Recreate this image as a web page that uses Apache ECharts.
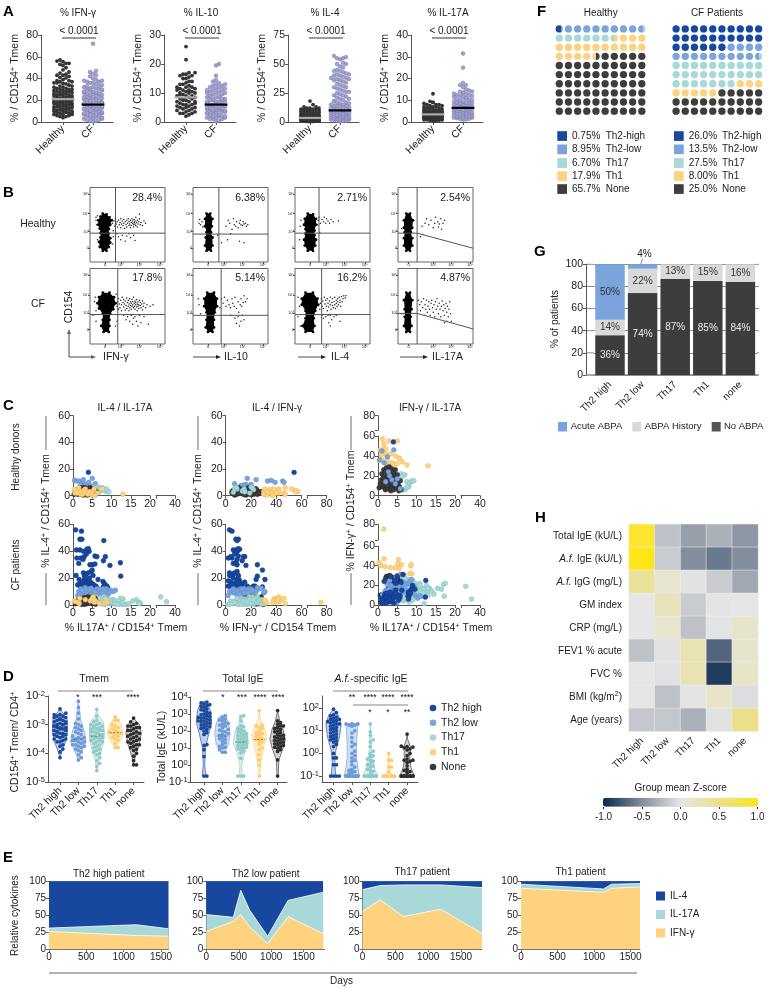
<!DOCTYPE html>
<html><head><meta charset="utf-8"><style>html,body{margin:0;padding:0;background:#fff}#c{width:768px;height:988px}</style>
<script src="https://cdn.jsdelivr.net/npm/echarts@6/dist/echarts.min.js"></script></head><body><div id="c"></div>
<script>
// ---------- DATA ----------
const ifnHealthy=[57,56,55.5,54,54,53,52,50,48,46,45,44,43,43,42,41,40.5,39,38,38,37,37,36,36,35.5,35,34,34,33,33,32,32,31,31,30,30,30,29,29,28,28,28,27,27,26,26,26,25,25,25,24,24,24,23,23,23,22,22,22,21,21,21,20,20,20,19,19,19,18,18,18,17,17,17,16,16,16,15,15,15,14,14,14,13,13,13,12,12,12,11,11,11,10,10,10,9,9,9,8,8,8,7,7,7,6,6,5,5,4];
const ifnCF=[72,47,46,44.5,43,42,40,39,38,38,37,37,36,36,35,34,33,33,32,32,31,31,30,30,30,29,29,28,28,27,27,27,26,26,25,25,25,24,24,23,23,23,22,22,21,21,21,20,20,20,19,19,19,18,18,18,17,17,17,16,16,16,15,15,15,14,14,14,13,13,13,12,12,12,11,11,11,10,10,10,9,9,9,8,8,8,7,7,7,6,6,6,5,5,5,4,4,4,3,3,2,2,1,1,0.5];
const il10Healthy=[26,21.5,17,17,16.5,16.5,16,16,15.5,15,15,14,14,13.5,13,13,12.5,12,12,12,11.5,11.5,11,11,11,10.5,10.5,10,10,10,9.5,9.5,9,9,9,8.5,8.5,8,8,8,7.5,7.5,7,7,7,6.5,6.5,6,6,6,5.5,5.5,5,5,5,4.5,4.5,4,4,3.5,3.5,3,3,3,2.5,2];
const il10CF=[20,19.5,16,14.5,14,13.5,13,13,12.5,12.5,12,12,11.5,11.5,11,11,11,10.5,10.5,10,10,10,9.5,9.5,9,9,9,8.5,8.5,8.5,8,8,8,7.5,7.5,7.5,7,7,7,7,6.5,6.5,6.5,6,6,6,6,5.5,5.5,5.5,5,5,5,5,4.5,4.5,4.5,4,4,4,4,3.5,3.5,3.5,3,3,3,3,2.5,2.5,2.5,2,2,2,2,1.5,1.5,1.5,1,1,1,0.5,0.3];
const il4Healthy=[18,15,13,13,12,12,12,11,11,11,11,10,10,10,9,9,9,8,8,8,8,7,7,7,7,6,6,6,6,6,5,5,5,5,5,4.5,4.5,4,4,4,4,3.5,3.5,3.5,3,3,3,3,2.5,2.5,2.5,2,2,2,2,2,1.5,1.5,1.5,1.5,1,1,1,1,1,0.7,0.7,0.5,0.5,0.3];
const il4CF=[57,56,55,55,54,51,50,50,48,47,45,44,44,43,42,41,41,40,40,39,38,38,37,37,36,36,35,34,33,32,31,30,30,29,28,27,26,26,25,24,23,23,22,21,20,20,19,18,18,17,17,16,16,15,15,14,14,14,13,13,12,12,12,11,11,11,10,10,10,9,9,9,8,8,8,7,7,7,6,6,6,6,5,5,5,5,4,4,4,4,3,3,3,3,2,2,2,2,1,1,1,0.5];
const il17Healthy=[13,9.5,9,9,8.5,8,8,8,7.5,7.5,7,7,7,6.5,6.5,6.5,6,6,6,5.5,5.5,5.5,5.5,5,5,5,5,4.5,4.5,4.5,4.5,4,4,4,4,4,3.5,3.5,3.5,3.5,3.5,3,3,3,3,3,2.7,2.7,2.7,2.5,2.5,2.5,2.2,2.2,2.2,2,2,2,1.8,1.8,1.8,1.5,1.5,1.5,1.2,1.2,1.2,1,1,1,0.8,0.8,0.6,0.5];
const il17CF=[31.5,25,18,17,17,16,15,14.5,14,14,13.5,13.5,13,13,12.5,12.5,12,12,11.5,11.5,11,11,10.5,10.5,10,10,9.5,9.5,9,9,9,8.5,8.5,8,8,8,7.5,7.5,7,7,7,6.5,6.5,6.5,6,6,6,5.5,5.5,5.5,5,5,5,4.5,4.5,4.5,4,4,4,3.5,3.5,3.5,3,3,3,2.7,2.7,2.5,2.5,2.2,2,2,1.8,1.5,1.5,1.2,1];
const aMedians=[[21,16],[8.5,6],[3.5,10],[3.5,6.5]];
const flowPct=[['28.4%','6.38%','2.71%','2.54%'],['17.8%','5.14%','16.2%','4.87%']];
const flowBlobH1=[[17,65],[22,64],[26,60],[29,56],[27,50],[25,44],[25,38],[27,32],[27,26],[25,20],[22,15],[17,15],[13,20],[12,27],[14,33],[14,39],[13,45],[11,50],[11,56],[14,61]];
const flowBlobH2=[[18,65],[23,65],[26,58],[25,48],[24,40],[26,33],[26,22],[24,15],[18,15],[16,22],[17,33],[18,40],[16,48],[16,58]];
const flowBlobH3=[[17,65],[24,64],[28,58],[28,50],[26,42],[26,36],[28,30],[27,22],[24,15],[17,15],[13,22],[12,30],[14,38],[14,44],[12,50],[13,58]];
const flowBlobH4=[[11,65],[16,65],[20,56],[19,46],[17,40],[19,32],[19,22],[16,15],[11,15],[8,22],[8,32],[9,40],[8,46],[8,56]];
const flowBlobC1=[[17,68],[26,68],[32,62],[34,54],[31,46],[27,40],[26,32],[26,24],[25,16],[18,16],[15,24],[17,32],[17,40],[12,47],[10,54],[12,62]];
const flowBlobC2=[[19,68],[28,68],[32,60],[32,50],[29,42],[28,32],[28,22],[26,16],[20,16],[17,22],[18,32],[18,42],[15,50],[15,60]];
const flowBlobC3=[[14,68],[24,68],[30,60],[31,52],[27,44],[25,34],[26,24],[24,16],[14,16],[10,24],[14,34],[14,44],[9,52],[9,60]];
const flowBlobC4=[[11,68],[16,68],[19,58],[18,46],[17,36],[18,24],[16,16],[11,16],[8,24],[9,36],[9,46],[8,58]];
const flowEvH1=[[30,52],[32,55],[33,48],[34,58],[35,51],[36,54],[37,47],[38,56],[39,50],[40,53],[41,58],[41,46],[42,51],[43,55],[44,49],[45,52],[45,57],[46,45],[47,54],[48,50],[49,56],[49,47],[50,52],[51,58],[52,49],[52,54],[53,51],[54,56],[54,46],[55,53],[55,49],[56,58],[57,52],[57,55],[58,50],[58,47],[59,53],[59,57],[60,51],[60,55],[61,49],[61,60],[62,53],[63,56],[63,47],[64,51],[65,54],[66,58],[67,50],[68,53],[70,49],[72,55],[36,38],[38,34],[41,30],[43,36],[47,28],[49,35],[52,38],[54,33],[58,36],[60,29],[9,50],[8,56],[8,60],[10,62],[31,42],[10,30],[30,24],[31,34],[74,52],[66,64]];
const flowEvH2=[[8,52],[9,57],[10,50],[12,54],[13,47],[33,36],[38,26],[46,30],[44,48],[47,56],[49,52],[52,44],[54,58],[55,50],[57,48],[58,54],[60,46],[62,52],[63,56],[64,50],[66,49],[67,54],[68,51],[70,52],[71,48],[73,50],[62,28],[68,26],[50,38]];
const flowEvH3=[[7,48],[8,56],[30,50],[31,56],[32,60],[34,52],[36,57],[38,54],[39,60],[41,52],[42,58],[44,55],[46,52],[48,57],[51,54],[58,55],[33,40],[6,30]];
const flowEvH4=[[30,34],[33,37],[32,48],[36,52],[38,58],[41,50],[44,56],[47,46],[49,52],[50,60],[53,54],[54,47],[55,51],[57,58],[58,44],[60,52],[62,56],[5,45]];
const flowEvC1=[[36,50],[37,56],[38,46],[38,60],[39,53],[40,48],[41,58],[42,52],[42,44],[43,62],[44,55],[45,49],[45,59],[46,53],[47,45],[47,57],[48,51],[49,61],[49,47],[50,55],[51,50],[51,58],[52,53],[52,44],[53,60],[53,48],[54,56],[54,51],[55,54],[55,46],[56,59],[56,50],[57,52],[57,56],[58,48],[58,62],[59,54],[59,50],[60,57],[60,46],[61,52],[61,55],[62,49],[62,59],[63,53],[63,44],[64,56],[64,50],[65,52],[65,47],[66,58],[67,51],[67,55],[68,48],[69,53],[70,57],[70,45],[71,50],[72,54],[74,48],[76,52],[80,50],[84,52],[45,38],[48,32],[50,36],[53,30],[55,38],[57,26],[58,34],[60,36],[62,30],[64,24],[66,38],[68,28],[72,36],[78,26],[8,44],[6,56],[7,62],[4,38],[35,66],[36,30],[34,24],[8,30]];
const flowEvC2=[[10,40],[8,52],[7,60],[36,48],[38,60],[40,54],[42,62],[44,50],[46,58],[48,52],[50,48],[52,60],[53,54],[55,50],[56,62],[58,47],[60,56],[61,42],[63,52],[64,60],[65,50],[67,55],[68,64],[70,56],[72,60],[50,38],[56,34],[58,27],[60,36],[62,24],[64,30],[66,38],[68,32]];
const flowEvC3=[[4,36],[6,50],[7,24],[4,62],[33,46],[34,54],[35,60],[36,50],[37,57],[38,47],[39,62],[40,53],[41,58],[42,50],[43,44],[43,60],[44,54],[45,49],[46,57],[47,52],[47,62],[48,46],[49,55],[50,51],[50,60],[51,48],[52,56],[53,52],[53,62],[54,47],[55,58],[55,54],[56,50],[57,60],[57,56],[58,52],[59,62],[60,55],[60,58],[61,50],[62,63],[63,56],[64,60],[65,64],[67,61],[68,64],[36,38],[38,34],[41,36],[44,38],[45,28],[47,38],[49,32],[52,36],[55,38],[47,24],[60,30]];
const flowEvC4=[[5,40],[27,58],[29,52],[30,44],[31,56],[33,48],[34,60],[35,38],[36,52],[37,46],[38,58],[39,42],[40,50],[41,56],[42,46],[43,38],[44,54],[45,58],[46,48],[47,42],[48,52],[49,36],[50,56],[51,46],[52,60],[53,50],[54,40],[55,54],[56,46],[57,36],[58,50],[59,57],[60,44],[61,52],[62,38],[63,47],[64,54],[65,42],[66,50],[67,36],[68,46],[69,56],[70,40],[71,30],[62,28],[65,30]];
const thNames=['Th2 high','Th2 low','Th17','Th1','None'];
const catNames=['Th2 high','Th2 low','Th17','Th1','none'];
// triples: [% IL17A, % IL-4, % IFN-γ]
const donorsTh2High=[[4,17.5,54]];
const donorsTh2Low=[[0.4,11.5,36],[1,11,45],[1.6,11,33],[2.4,10,39],[3,8.5,20],[3.6,8.5,16],[4.1,10,46],[5,13,17],[5.8,9,7],[2,8,14],[4.5,7.5,12],[2.7,12,24]];
const donorsTh17=[[6,4.5,22],[6.5,6.5,20],[7,6,21],[7.5,4,14],[8,5,9],[8.3,3.5,13],[9,3,15],[6.7,2.5,6],[7.2,5,7],[7.6,6,8.5],[8.7,5,14.5],[9.3,3,15],[6.2,2,19]];
const donorsTh1=[[1.2,3,57],[1.5,5,52],[2.8,4,55],[5,3,55],[0.5,2,46],[1.5,6,47],[2,1,47],[3.2,5,42],[0.8,4,41],[1.9,2,42],[2.5,1,38],[4.5,2,40],[5.5,5,38],[0.4,5,35],[1.1,2,36],[3,3,33],[3.8,1,33],[4.2,3,30],[4.9,0.5,32],[6.3,2,34],[7.5,5,31],[13,1,30],[5.6,0,37],[2,3,33]];
const donorsNone=[[0.3,1,8],[0.6,3,12],[0.9,4,16],[1,2,22],[1.2,5,9],[1.3,1,14],[1.5,3,26],[1.6,4,11],[1.7,6,19],[1.9,2,6],[2,5,24],[2.1,1,17],[2.2,3,28],[2.4,4,13],[2.5,6,21],[2.6,0.5,7],[2.7,3,15],[2.8,5,23],[2.9,2,29],[3,4,10],[3.1,6,18],[3.2,1,25],[3.3,3,5],[3.4,5,20],[3.5,2,27],[3.6,4,8],[3.7,0.5,16],[3.8,3,12],[3.9,5,24],[4,2,19],[4.1,4,6],[4.2,1,22],[4.3,3,14],[4.4,6,10],[4.5,2,26],[4.6,4,17],[4.8,1,8],[5,3,21],[5.2,5,13],[5.4,2,5],[5.6,4,9],[5.8,1,15],[6,3,6],[1.4,2,18],[2.3,1.5,10],[3.5,0.8,20]];
const cfTh2High=[[0.7,56,3],[2.2,55,5],[1.8,49,10],[2.3,49,8],[8,48,9],[0.9,41,6],[1.8,41,8],[2.7,40,9],[3.6,41.5,11],[4,42,10],[1,35,2],[2,35,5],[2.9,36,4],[3.5,38,7],[4.2,40,9],[5.7,36.5,10],[6.2,36,15],[8.4,36,14],[7.9,33,13],[9.6,29.5,16],[12.3,31.5,8],[12.4,21.5,25],[1.5,31,6],[2.6,34,9],[5,30,9],[5.7,30.5,8],[2.7,24,3],[3,22,4],[3.4,23,6],[4,24,7],[4.7,25,9],[5.2,22,10],[3.6,19,9],[4.2,20,10],[3,18,11],[1.8,16,11],[2.2,15.5,12],[3.2,15,13],[3.9,16,7],[4.5,17,15],[5,16,8],[7.8,17.5,9],[8.1,16,10],[8.4,15,12],[8.8,14,17],[7.9,13.5,6],[9,13,20],[4.7,14,22],[1.6,19,24],[6,14,23],[3.3,13.5,29],[6.5,19,31],[5,26,29],[4.4,30,25],[0.8,22,3],[1.2,15,5],[2,14,2],[2.5,17,4],[3.5,14,3],[4.2,18,2],[5.4,15,5],[3,20,6],[2.1,13.5,8],[4.6,13.2,12]];
const cfTh2Low=[[1.5,10,4],[2.2,9,6],[2.8,11,8],[3.4,8,10],[3.9,12,12],[4.5,9,14],[4.9,7,2],[5.3,11,5],[5.9,8.5,16],[6.2,12,18],[6.8,9,20],[7.3,11,21],[7.8,7.5,22],[8.2,10,24],[8.7,12,26],[9.1,8,12],[9.7,11,10],[10.4,10,7],[11,11,9],[2,12,15],[3,8,17],[4,10,3],[5.5,6.5,19],[6.5,7,23],[1.2,7,11],[3.1,13,25],[4.7,12.5,28],[5,9,30],[6,10,31],[1.8,8,13],[2.5,7,9],[3.6,10,14],[4.3,11,18],[5,8,11],[5.7,10,7],[6.9,12,13],[7.5,9,15],[8,12,6],[9.4,9,18],[3.3,12,20],[2.4,11,21]];
const cfTh17=[[5.2,5,18],[5.6,3,22],[5.9,6,25],[6.2,2,14],[6.5,4,20],[6.8,1.5,10],[7.1,5,24],[7.4,3,16],[7.7,2,12],[8,6,21],[8.3,1,19],[8.6,3.5,8],[8.9,4.5,23],[9.2,2,15],[9.5,1,17],[9.8,3,20],[10.1,1.5,11],[10.4,2.5,14],[10.8,0.5,22],[11.2,2,18],[11.5,1,9],[11.9,1,16],[12.3,5,12],[12.6,1,20],[13,4.5,15],[13.4,0.5,17],[14,0.5,14],[14.5,1,11],[15.5,3,17],[16.5,4,16],[17,2,21],[17.5,1.5,22],[13,0.5,10],[12,0.5,1.5],[17.2,1,9],[25,6,19],[31,2.5,6],[6,0.5,28],[5.5,2,6],[6.6,3,4],[7.3,1,6],[8.1,0.5,3],[9,1,5],[10,2,7],[7,4,27],[8,3,26],[9,1.5,25],[6.1,4,12],[6.4,3,16],[6.9,5,19],[7.2,2,23],[7.8,4,18],[8.2,3,13],[8.7,1,16],[9.3,3,11],[9.9,2,13],[10.5,4,19],[11,3,14],[7.5,1.5,21],[8.4,5,9],[9.6,4,22],[10.9,1,20],[11.6,0.7,12],[12.9,2,17]];
const cfTh1=[[1.5,2,74],[0.3,3,43],[0.7,2.5,40],[1.6,1,47],[1.8,5,39],[3.2,4,38],[4.5,3,38],[5.3,5,46],[5.2,6,42],[6.1,2.5,41],[5.5,2,37],[6.9,1,30],[8.5,2,40],[8.6,3.5,41],[8.3,1.5,32],[8.8,2,32],[4.8,4,29],[5.6,3.5,31]];
const cfNone=[[1,3,10],[1.5,1.5,8],[2,4,12],[2.4,5,15],[2.8,2,18],[3,5.5,22],[3.2,3,25],[3.6,1,28],[3.9,6,20],[4.2,2.5,24],[4.5,4,28],[4.9,5,16],[5.1,1,26],[5.4,3,22],[5.7,5,19],[6,3,21],[0.6,1,10],[2.2,0.5,29],[3,0.5,30],[4,4,26],[4.7,2,27],[5,6,28],[5.9,0.7,24],[2,2.5,27],[3.3,4.5,28],[4.1,3,22],[2.7,1,13],[3.7,2,16]];
// panel D, log10 of the value
const tmemValues=[
[-2.45,-2.6,-2.65,-2.65,-2.7,-2.7,-2.75,-2.75,-2.8,-2.8,-2.85,-2.85,-2.9,-2.9,-2.95,-2.95,-3,-3,-3,-3.05,-3.05,-3.1,-3.1,-3.1,-3.15,-3.15,-3.2,-3.2,-3.25,-3.25,-3.3,-3.3,-3.35,-3.35,-3.4,-3.4,-3.45,-3.5,-3.5,-3.55,-3.6,-3.6,-3.7,-3.75,-3.85,-3.95,-4.15],
[-2.18,-2.4,-2.6,-2.8,-2.95,-3,-3.05,-3.1,-3.15,-3.2,-3.25,-3.3,-3.35,-3.4,-3.45,-3.45,-3.5,-3.5,-3.55,-3.55,-3.6,-3.6,-3.65,-3.65,-3.7,-3.7,-3.75,-3.75,-3.8,-3.85,-3.9,-3.95,-4.05,-4.15,-4.23],
[-2.47,-2.7,-2.85,-2.9,-2.95,-3,-3,-3.05,-3.05,-3.1,-3.1,-3.15,-3.15,-3.2,-3.2,-3.25,-3.25,-3.3,-3.3,-3.35,-3.35,-3.4,-3.4,-3.45,-3.45,-3.5,-3.5,-3.55,-3.55,-3.6,-3.6,-3.65,-3.7,-3.75,-3.8,-3.85,-3.9,-3.95,-4,-4.05,-4.15,-4.25,-4.35,-4.45,-4.6],
[-2.73,-2.85,-2.85,-3,-3.05,-3.1,-3.15,-3.2,-3.25,-3.25,-3.3,-3.3,-3.35,-3.4,-3.45,-3.5,-3.55,-3.65,-3.8,-3.8],
[-2.77,-2.9,-2.95,-3,-3.05,-3.05,-3.1,-3.1,-3.15,-3.2,-3.2,-3.25,-3.3,-3.3,-3.35,-3.4,-3.4,-3.45,-3.5,-3.5,-3.55,-3.6,-3.6,-3.65,-3.7,-3.7,-3.75,-3.8,-3.85,-3.9,-4,-4.1,-4.25,-4.4,-4.4]];
const igeValues=[
[3.7,3.65,3.6,3.55,3.5,3.45,3.4,3.3,3.25,3.2,3.1,3.05,3,2.95,2.9,2.85,2.8,2.8,2.75,2.7,2.65,2.6,2.6,2.55,2.5,2.45,2.4,2.35,2.3,2.25,2.2,2.15,2.1,2,1.9,1.8,1.2,1.15,0.9,0.5,-0.65,-0.65],
[2.9,2.8,2.7,2.65,2.6,2.5,2.45,2.4,2.35,2.3,2.2,2.1,2.05,2,1.95,1.85,1.8,1.75,1.7,1.6,1.55,1.5,1.4,1.3,1.2,1.1,1.05,1,0.9,0.75,0.75],
[2.9,2.85,2.6,2.3,2.25,2.15,2.1,2,1.95,1.9,1.85,1.8,1.75,1.7,1.65,1.6,1.55,1.5,1.45,1.4,1.35,1.3,1.25,1.2,1.15,1.1,1.05,1,0.95,0.9,0.8,0.7,0.4,-0.65,-0.65,-0.65],
[3.2,2.35,2.3,2.2,2.15,2,1.9,1.85,1.8,1.7,1.6,1.55,1.5,1.4,1.35,1.2,1,0.9,0.6,0.3,0,-0.65],
[3.2,2.6,2.5,2.4,2.3,2.3,2.2,2.15,2.1,2,1.95,1.9,1.8,1.75,1.7,1.65,1.6,1.55,1.5,1.45,1.4,1.35,1.3,1.25,1.2,1.15,1.1,1.05,1,0.9,0.8,0.3,-0.65]];
const afValues=[
[1.95,1.8,1.7,1.65,1.6,1.55,1.5,1.5,1.45,1.4,1.4,1.35,1.3,1.3,1.25,1.2,1.15,1.1,1.05,1,0.95,0.9,0.85,0.8,0.75,0.7,0.65,0.6,0.55,0.5,0.4,0.3,0,-0.2,-0.2,-0.5,-0.5,-1,-1,-1,-1],
[1.3,1.3,1.3,1.3,1.25,1.25,1.2,1,0.9,0.7,0.5,0.4,0.3,0.1,0,-0.1,-0.2,-0.3,-0.35,-0.5,-0.6,-0.7,-0.75,-0.8,-0.85,-0.9,-1,-1,-1,-1,-1,-1,-1,-1,-1,-1,-1,-1,-1,-1,-1,-1],
[1.3,0.95,0.8,0.6,0.5,0.3,0.1,0,-0.1,-0.15,-0.25,-0.3,-0.35,-0.45,-0.5,-0.55,-0.6,-0.7,-0.75,-0.8,-0.9,-1,-1,-1,-1,-1,-1,-1,-1,-1,-1,-1,-1,-1],
[0,-0.3,-0.3,-0.6,-0.6,-0.8,-1,-1,-1,-1,-1,-1,-1,-1,-1],
[0.85,0.32,0.3,0.28,0.25,0.2,0.15,0,-0.1,-0.25,-0.3,-0.3,-0.35,-0.4,-0.55,-0.7,-0.75,-0.8,-0.85,-1,-1,-1,-1,-1,-1,-1,-1,-1,-1,-1,-1,-1,-1,-1]];
const tmemShapes=[
[[-4.15,0],[-3.9,.12],[-3.6,.3],[-3.2,.42],[-2.8,.38],[-2.6,.18],[-2.45,0]],
[[-4.23,0],[-3.9,.2],[-3.6,.42],[-3.3,.35],[-2.9,.15],[-2.5,.06],[-2.18,0]],
[[-4.6,0],[-4.2,.1],[-3.8,.3],[-3.3,.42],[-2.9,.35],[-2.7,.1],[-2.47,0]],
[[-3.8,.03],[-3.6,.25],[-3.3,.45],[-3,.3],[-2.85,.14],[-2.73,0]],
[[-4.4,0],[-4.1,.1],[-3.7,.3],[-3.3,.42],[-3,.32],[-2.85,.1],[-2.77,0]]];
const tmemMedians=[-3.05,-3.5,-3.4,-3.28,-3.4];
const igeShapes=[
[[-.65,.1],[0,.04],[1,.08],[1.8,.25],[2.5,.42],[3.2,.35],[3.7,.16],[3.75,0]],
[[.75,.1],[1.2,.33],[1.8,.42],[2.4,.35],[2.8,.2],[2.95,0]],
[[-.65,.08],[0,.05],[.7,.2],[1.3,.42],[1.9,.32],[2.4,.12],[2.9,.04]],
[[-.65,.04],[0,.08],[1,.22],[1.7,.42],[2.2,.28],[2.7,.05],[3.2,0]],
[[-.65,.03],[.3,.07],[1,.3],[1.5,.42],[2.1,.3],[2.6,.12],[3.2,0]]];
const igeMedians=[2.55,1.7,1.35,1.5,1.4];
const afShapes=[
[[-1,.12],[-.4,.07],[.1,.12],[.7,.32],[1.3,.42],[1.7,.25],[1.95,0]],
[[-1,.42],[-.7,.34],[-.2,.26],[.4,.26],[1,.3],[1.3,.32],[1.35,0]],
[[-1,.42],[-.6,.2],[0,.08],[.6,.04],[1.3,0]],
[[-1,.32],[-.8,.04],[0,.02]],
[[-1,.4],[-.6,.2],[-.2,.15],[.3,.18],[.6,.04],[.85,0]]];
const eDays=[[0,1170,1600],[0,415,530,665,945,1260,1800],[0,270,620,1190,1820],[0,1130,1240,1630]];
const eIfn=[[26,20,19],[26,41,51,33,8,48,23],[56,73,48,59,23],[90,84,90,92]];
const eIl17=[[5,16,11],[25,6,36,25,11,24,61],[32,21,47,36,68],[6,5,6,5]];
const eIl4=[[69,64,70],[49,53,13,42,81,28,16],[12,6,5,5,9],[4,11,4,3]];
const eTitles=['Th2 high patient','Th2 low patient','Th17 patient','Th1 patient'];
const fLabels=['Th2-high','Th2-low','Th17','Th1','None'];
const fHealthy=[0.75,8.95,6.70,17.9,65.7];
const fCF=[26,13.5,27.5,8,25];
const fHealthyText=['0.75%','8.95%','6.70%','17.9%','65.7%'];
const fCFText=['26.0%','13.5%','27.5%','8.00%','25.0%'];
const gNoAbpa=[36,74,87,85,84];
const gHistory=[14,22,13,15,16];
const gAcute=[50,4,0,0,0];
const hRows=['Total IgE (kU/L)','~{A.f.} IgE (kU/L)','~{A.f.} IgG (mg/L)','GM index','CRP (mg/L)','FEV1 % acute','FVC %','BMI (kg/m^{2})','Age (years)'];
const hZ=[[.9,-.2,-.4,-.3,-.45],[1,-.15,-.5,-.6,-.5],[.42,.12,-.02,-.15,-.35],[0,.24,-.15,-.01,0],[0,.12,-.2,-.01,.14],[-.2,-.02,.28,-.7,.14],[0,-.03,.28,-.9,.17],[0,-.2,-.01,.15,-.05],[-.17,-.17,-.3,-.02,.5]];

// ---------- STYLE ----------
const F='Liberation Sans',INK='#222',AX='#555';
const CB='#17479e',CL='#7ba3dc',CT='#a8d8d8',CY='#fed27e',CN='#3d3d3d';
const groupColors=[CB,CL,CT,CY,CN];
const option={animation:false,backgroundColor:'#fff',grid:[],xAxis:[],yAxis:[],series:[],graphic:{elements:[]}};
const G=option.graphic.elements;

function rt(s,size,color){
  color=color||INK;
  const parts=s.split(/(\^\{[^}]*\}|~\{[^}]*\})/).filter(p=>p!=='');
  const text=parts.map(p=>p[0]==='^'&&p[1]==='{'?`{u|${p.slice(2,-1)}}`:p[0]==='~'&&p[1]==='{'?`{i|${p.slice(2,-1)}}`:`{n|${p}}`).join('');
  return {text,rich:richOf(size,color)};
}
function richOf(size,color){
  const c={color:color,fill:color,fontFamily:F};
  return {n:{...c,fontSize:size,lineHeight:size*1.25},i:{...c,fontSize:size,fontStyle:'italic',lineHeight:size*1.25},u:{...c,fontSize:size*.72,verticalAlign:'top',lineHeight:size*.9}};
}
function T(x,y,s,o){
  o=o||{};const size=o.size||10,color=o.color||INK;
  const st={x:0,y:0,align:o.align||'center',verticalAlign:'middle',textAlign:o.align||'center',textVerticalAlign:'middle',fill:color,fontFamily:F,fontSize:size,fontWeight:o.bold?'bold':'normal'};
  if(/[\^~]\{/.test(s)){const r=rt(s,size,color);st.text=r.text;st.rich=r.rich;}else st.text=s;
  G.push({type:'text',x,y,rotation:o.rot||0,silent:true,style:st});
}
function L(x1,y1,x2,y2,color,w){G.push({type:'line',silent:true,shape:{x1,y1,x2,y2},style:{stroke:color||AX,lineWidth:w||1}});}
function R(x,y,w,h,color){G.push({type:'rect',silent:true,shape:{x,y,width:w,height:h},style:{fill:color}});}
function Tri(p,color){G.push({type:'polygon',silent:true,shape:{points:p},style:{fill:color}});}
function axis(pos,min,max,ticks,labels,o){
  o=o||{};
  return {type:'value',position:pos,min,max,show:o.show!==false,
    axisLine:{show:o.line!==false,onZero:false,lineStyle:{color:o.color||AX,width:o.w||1}},
    axisTick:ticks&&ticks.length?{show:true,customValues:ticks,length:o.tick==null?3:o.tick,lineStyle:{color:o.color||AX,width:o.w||1}}:{show:false},
    axisLabel:labels&&labels.length?{show:true,customValues:labels,fontSize:o.size||10.5,fontFamily:F,color:INK,margin:o.margin==null?3:o.margin,rotate:o.rotate||0,
      formatter:o.fmt||(v=>String(v)),rich:o.rich,hideOverlap:false,showMinLabel:true,showMaxLabel:true}:{show:false},
    splitLine:{show:false}};
}
function addGrid(l,t,r,b,x,y,extra){
  const i=option.grid.length;
  option.grid.push({left:l,top:t,width:r-l,height:b-t,containLabel:false,...(extra||{})});
  x.gridIndex=i;y.gridIndex=i;option.xAxis.push(x);option.yAxis.push(y);return i;
}
function swarm(vals,pxVal,pxCat,center,step,maxHalf,vWin){
  const sorted=[...vals].sort((a,b)=>a-b),placed=[],out=[];let cnt=0;
  sorted.forEach(v=>{
    const y=v*pxVal;let off=null;
    for(let k=0;k<60;k++){const o=(k%2?1:-1)*Math.ceil(k/2)*step;if(Math.abs(o)>maxHalf)break;
      if(!placed.some(p=>Math.abs(p[1]-y)<vWin&&Math.abs(p[0]-o)<step*.9)){off=o;break;}}
    if(off===null){const n=Math.floor(maxHalf/step);cnt+=3;off=((cnt%(2*n+1))-n)*step;}
    placed.push([off,y]);out.push([center+off/pxCat,v]);
  });return out;
}
function scatter(i,data,size,color,border,bw,z){
  option.series.push({type:'scatter',xAxisIndex:i,yAxisIndex:i,data,symbolSize:size,silent:true,z:z||2,itemStyle:{color,borderColor:border||color,borderWidth:bw||0,opacity:1}});
}
function polyline(i,data,color,w,dash,z){
  option.series.push({type:'line',xAxisIndex:i,yAxisIndex:i,data,symbol:'none',silent:true,z:z||3,lineStyle:{color,width:w,type:dash||'solid'}});
}
function polygon(i,pts,fill,stroke,lw){
  option.series.push({type:'custom',xAxisIndex:i,yAxisIndex:i,coordinateSystem:'cartesian2d',silent:true,data:pts,clip:false,z:2,
    renderItem:(p,api)=>{ if(p.dataIndex!==0)return null;
      return {type:'polygon',shape:{points:pts.map(q=>api.coord(q))},style:{fill,stroke:stroke||fill,lineWidth:lw||0}};}});
}

// ---------- PANEL LETTERS ----------
[['A',3,12],['B',3,193],['C',3,406],['D',3,677],['E',3,858],['F',537,12],['G',534,252],['H',535,518]].forEach(a=>T(a[1],a[2],a[0],{size:15,bold:true,align:'left',color:'#000'}));

// ---------- A ----------
const aCols=[
 {l:41,r:113,c0:63,title:'% IFN-γ',max:80,ticks:[0,20,40,60,80],h:ifnHealthy,f:ifnCF},
 {l:164,r:236,c0:186,title:'% IL-10',max:30,ticks:[0,10,20,30],h:il10Healthy,f:il10CF},
 {l:288,r:359,c0:310,title:'% IL-4',max:75,ticks:[0,25,50,75],h:il4Healthy,f:il4CF},
 {l:411,r:483,c0:433,title:'% IL-17A',max:40,ticks:[0,10,20,30,40],h:il17Healthy,f:il17CF}];
const aCats=['Healthy','CF'];
aCols.forEach((c,n)=>{
  const pc=30,t=35,b=122;
  const i=addGrid(c.l,t,c.r,b,axis('bottom',(c.l-c.c0)/pc,(c.r-c.c0)/pc,[0,1],[0,1],{rotate:45,fmt:v=>aCats[v],margin:5}),axis('left',0,c.max,c.ticks,c.ticks,{margin:3}));
  const pv=(b-t)/c.max;
  scatter(i,swarm(c.h,pv,pc,0,3,10.5,3.6),3.8,'#333');
  scatter(i,swarm(c.f,pv,pc,1,3,10.5,3.6),3.8,'#a2a2d2','#6a6a9c',.4);
  polyline(i,[[-.38,aMedians[n][0]],[.38,aMedians[n][0]]],'#ababab',2.2);
  polyline(i,[[.62,aMedians[n][1]],[1.38,aMedians[n][1]]],'#000',2.2);
  T(c.c0+15,13,c.title,{size:10});
  T(c.c0+16,31,'< 0.0001',{size:10});
  L(c.c0-1,38,c.c0+33,38,'#9a9a9a',2);
  T(c.l-26,78,'% / CD154^{+} Tmem',{size:10.5,rot:Math.PI/2});
});

// ---------- B ----------
const fCols=[[90,165],[193,268],[295,370],[398,473]];
const fRows=[[187.5,262],[268.5,344]];
const flowPanels=[
 [{blob:flowBlobH1,ev:flowEvH1,v:34,h:38.7},{blob:flowBlobH2,ev:flowEvH2,v:34.5,h:37.5},{blob:flowBlobH3,ev:flowEvH3,v:32,h:38.7},{blob:flowBlobH4,ev:flowEvH4,v:25.5,h:38.7,diag:18.5}],
 [{blob:flowBlobC1,ev:flowEvC1,v:37,h:39},{blob:flowBlobC2,ev:flowEvC2,v:37.5,h:38},{blob:flowBlobC3,ev:flowEvC3,v:35.5,h:39},{blob:flowBlobC4,ev:flowEvC4,v:25.5,h:40.5,diag:20}]];
const supT=['0','10³','10⁴','10⁵'];
flowPanels.forEach((row,ri)=>row.forEach((p,ci)=>{
  const [l,r]=fCols[ci],[t,b]=fRows[ri];
  const xt=ci===3?[14,47,71,96]:[20,41,66,93],yt=[19,41,65,91];
  const i=addGrid(l,t,r,b,
    axis('bottom',0,100,xt,xt,{line:false,tick:2,size:4,margin:1,fmt:v=>supT[xt.indexOf(v)]}),
    axis('left',0,100,yt,yt,{line:false,tick:2,size:4,margin:1,fmt:v=>supT[yt.indexOf(v)]}),
    {show:true,borderColor:'#666',borderWidth:1,backgroundColor:'rgba(0,0,0,0)'});
  polygon(i,p.blob,'#000');
  scatter(i,p.blob,2.8,'#000');
  scatter(i,p.ev,1.5,'#222');
  polyline(i,[[p.v,0],[p.v,100]],'#555',1,'solid',4);
  if(p.diag!=null){polyline(i,[[0,p.h],[p.v,p.h],[100,p.diag]],'#555',1,'solid',4);}
  else polyline(i,[[0,p.h],[100,p.h]],'#555',1,'solid',4);
  T(fCols[ci][1]-3,ri?278:198,flowPct[ri][ci],{size:10.5,align:'right'});
}));
T(38,224,'Healthy',{size:10.5});T(38,304,'CF',{size:10.5});
T(69,307,'CD154',{size:10.5,rot:Math.PI/2});
L(69,357,92,357,'#666',1.2);L(69,357,69,333,'#666',1.2);
Tri([[96,357],[91,355],[91,359]],'#666');Tri([[69,329],[67,334],[71,334]],'#666');
[[193,218,'IL-10',224],[298,323,'IL-4',331],[400,425,'IL-17A',432]].forEach(a=>{L(a[0],357,a[1],357,'#222',.8);Tri([[a[1]+3,357],[a[1]-2,355],[a[1]-2,359]],'#222');T(a[3],357,a[2],{size:10.5,align:'left'});});
T(103,357,'IFN-γ',{size:10.5,align:'left'});

// ---------- C ----------
const rowY=[[415.7,495.7],[524.5,605]];
const donors=[donorsTh2High,donorsTh2Low,donorsTh17,donorsTh1,donorsNone];
const patients=[cfTh2High,cfTh2Low,cfTh17,cfTh1,cfNone];
const cCols=[
 {x0:73,x1:150,x2:156,x3:175,xm:20,xe:40,xt:[0,5,10,15,20],xi:0,yi:1,order:[0,1,2,4,3]},
 {x0:225.7,x1:301.7,x2:307,x3:326.7,xm:60,xe:80,xt:[0,20,40,60],xi:2,yi:1,order:[0,1,4,3,2]},
 {x0:378,x1:455,x2:461,x3:480,xm:20,xe:40,xt:[0,5,10,15,20],xi:0,yi:2,top:true,order:[3,2,4,1,0]}];
const dotB=['#0f3a86','#5f8ccb','#84bcbc','#e9b95f','#222'];
const DS=4.8;
cCols.forEach(c=>{
  [donors,patients].forEach((set,ri)=>{
    const [tp,bt]=rowY[ri];
    const yTop60=c.top?(ri?546:436):tp, yBrk=c.top?(ri?540:430):null;
    const i=addGrid(c.x0,yTop60,c.x1,bt,axis('bottom',0,c.xm,c.xt,c.xt,{}),axis('left',0,60,[0,20,40,60],[0,20,40,60],{}));
    const j=addGrid(c.x2,yTop60,c.x3,bt,axis('bottom',c.xm,c.xe,[c.xm,c.xe],[c.xe],{}),axis('left',0,60,[],[],{show:false,line:false}));
    let k=null;
    if(c.top) k=addGrid(c.x0,tp,c.x1,yBrk,axis('bottom',0,c.xm,[],[],{show:false,line:false}),axis('left',60,80,[60,80],[80],{}));
    c.order.forEach(g=>{
      const pts=set[g].map(p=>[p[c.xi],p[c.yi]]);
      scatter(i,pts.filter(p=>p[0]<=c.xm&&p[1]<=60),DS,groupColors[g],dotB[g],.5);
      const a=pts.filter(p=>p[0]>c.xm&&p[1]<=60); if(a.length) scatter(j,a,DS,groupColors[g],dotB[g],.5);
      const h=pts.filter(p=>p[1]>60); if(h.length&&k!==null) scatter(k,h,DS,groupColors[g],dotB[g],.5);
    });
  });
});
T(125,408,'IL-4 / IL-17A',{size:10});T(277,408,'IL-4 / IFN-γ',{size:10});T(430,408,'IFN-γ / IL-17A',{size:10});
T(16,457,'Healthy donors',{size:10,rot:Math.PI/2});T(16,565,'CF patients',{size:10,rot:Math.PI/2});
[[46,'% IL-4^{+} / CD154^{+} Tmem'],[198,'% IL-4^{+} / CD154^{+} Tmem'],[351,'% IFN-γ^{+} / CD154^{+} Tmem']].forEach(a=>{
  L(a[0],416,a[0],450,'#444',.8);L(a[0],573,a[0],605,'#444',.8);T(a[0],511,a[1],{size:10.5,rot:Math.PI/2});
});
T(126,628,'% IL17A^{+} / CD154^{+} Tmem',{size:10.5});T(278,628,'% IFN-γ^{+} / CD154 Tmem',{size:10.5});T(431,628,'% IL17A^{+} / CD154^{+} Tmem',{size:10.5});

// ---------- D ----------
const pow10=(v)=>`{b|10}{u|${v}}`;
const powRich={b:{fontSize:11,fontFamily:F,color:INK,lineHeight:13},u:{fontSize:7.5,fontFamily:F,color:INK,verticalAlign:'top',lineHeight:9}};
const dFill=['#c7cfe6','#cfdff3','#dcefee','#ffeec8','#d4d4d4'];
const dDot=['#17479e','#6f9ad8','#8fc9c8','#fecb6c','#2d2d2d'];
const dPanels=[
 {l:48,r:144,c0:60,t:696,b:782,ymin:-5,ymax:-2,yt:[-5,-4,-3,-2],vals:tmemValues,shapes:tmemShapes,med:tmemMedians,title:'Tmem',tx:94,name:'CD154^{+} Tmem/ CD4^{+}',nx:15,ny:742},
 {l:190.7,r:287,c0:204,t:697,b:782,ymin:-1,ymax:4,yt:[-1,0,1,2,3,4],vals:igeValues,shapes:igeShapes,med:igeMedians,title:'Total IgE',tx:243,name:'Total IgE (kU/L)',nx:162,ny:747},
 {l:322,r:418,c0:333.5,t:696,b:782,ymin:-1.26,ymax:2.53,yt:[-1,0,1,2],vals:afValues,shapes:afShapes,title:'~{A.f.}-specific IgE',tx:371}];
dPanels.forEach(p=>{
  const pc=18.4;
  const i=addGrid(p.l,p.t,p.r,p.b,
    axis('bottom',(p.l-p.c0)/pc,(p.r-p.c0)/pc,[0,1,2,3,4],[0,1,2,3,4],{rotate:45,fmt:v=>catNames[v],margin:7,size:10.5}),
    axis('left',p.ymin,p.ymax,p.yt,p.yt,{fmt:pow10,rich:powRich,margin:3}));
  const pv=(p.b-p.t)/(p.ymax-p.ymin);
  p.vals.forEach((vs,g)=>{
    const s=p.shapes[g],left=s.map(q=>[g-q[1],q[0]]),right=s.map(q=>[g+q[1],q[0]]).reverse();
    polygon(i,left.concat(right),dFill[g],dDot[g],.6);
  });
  p.vals.forEach((vs,g)=>{
    scatter(i,swarm(vs,pv,pc,g,2.9,7.6,3),3.7,dDot[g],dDot[g],0,4);
    if(p.med) polyline(i,[[g-.32,p.med[g]],[g+.32,p.med[g]]],'#555',.6,'dashed',5);
  });
  T(p.tx,679,p.title,{size:10.5});
  if(p.name) T(p.nx,p.ny,p.name,{size:10.5,rot:Math.PI/2});
});
L(58,691,133,691,'#555',.7);L(203,691,278,691,'#555',.7);L(333,691,408,691,'#555',.7);L(353,705,408,705,'#555',.7);
[[78,697,'*'],[97,697,'***'],[133,697,'****'],[223,697,'*'],[242,697,'***'],[260,697,'****'],[278,697,'****'],[352,697,'**'],[370,697,'****'],[388,697,'****'],[407,697,'****'],[370,712,'*'],[388,712,'*'],[407,712,'**']].forEach(a=>T(a[0],a[1]+1,a[2],{size:8.5,color:'#111'}));
thNames.forEach((n,k)=>{const y=708+k*14.75;
  G.push({type:'circle',silent:true,shape:{cx:433,cy:y,r:3.3},style:{fill:groupColors[k]}});
  T(441,y,n,{size:10.5,align:'left'});});

// ---------- E ----------
const eRects=[[49,168.5,1600],[206.4,325,1830],[362.6,482,1820],[521,640,1630]];
const eT=[0,500,1000,1500],eY=[0,25,50,75,100];
eRects.forEach((r,n)=>{
  const i=addGrid(r[0],881.5,r[1],949,axis('bottom',0,r[2],eT,eT,{color:'#777',w:1,margin:3,size:10}),axis('left',0,100,eY,eY,{color:'#666',margin:3,size:10}));
  const cum=eDays[n].map((d,q)=>[eIfn[n][q],eIfn[n][q]+eIl17[n][q],eIfn[n][q]+eIl17[n][q]+eIl4[n][q]]);
  [[2,CB,CB],[1,CT,'#fff'],[0,CY,'#fff']].forEach(s=>{
    option.series.push({type:'line',xAxisIndex:i,yAxisIndex:i,symbol:'none',silent:true,z:2,
      data:eDays[n].map((d,q)=>[d,cum[q][s[0]]]),lineStyle:{color:s[2],width:.8},areaStyle:{color:s[1],opacity:1}});
  });
  T((r[0]+r[1])/2,n>1?872.5:874,eTitles[n],{size:10});
});
T(15,915.6,'Relative cytokines',{size:10,rot:Math.PI/2});
L(49,973,637,973,'#555',.9);T(341.5,981,'Days',{size:10});
[['IL-4',CB,896],['IL-17A',CT,914.6],['IFN-γ',CY,933]].forEach(a=>{R(656,a[2]-4.5,9,9,a[1]);T(670,a[2],a[0],{size:10,align:'left'});});

// ---------- F ----------
function waffle(l,pct){
  const i=addGrid(l,24.4,l+91.7,115.7,axis('bottom',-.5,9.5,[],[],{show:false,line:false}),{...axis('left',-.5,9.5,[],[],{show:false,line:false}),inverse:true});
  const data=[];let cuts=[0];pct.forEach(v=>cuts.push(cuts[cuts.length-1]+v));
  for(let q=0;q<100;q++){
    const a=cuts.findIndex((e,k)=>k>0&&q<e-1e-6)-1;const A=a<0?groupColors[4]:groupColors[a];
    const f=cuts[a+1]-q;
    let color=A;
    if(a>=0&&f<1-1e-6&&a<4){const B=groupColors[a+1];
      const p=Math.max(.45,Math.min(.7,f));
      color={type:'linear',x:0,y:0,x2:1,y2:0,colorStops:[{offset:0,color:A},{offset:p,color:A},{offset:p,color:B},{offset:1,color:B}]};}
    data.push({value:[q%10,Math.floor(q/10)],itemStyle:{color,opacity:1}});
  }
  option.series.push({type:'scatter',xAxisIndex:i,yAxisIndex:i,data,symbolSize:7.3,silent:true});
}
waffle(554.7,fHealthy);waffle(671.5,fCF);
T(600.7,13,'Healthy',{size:10});T(717,13,'CF Patients',{size:10});
[136,149.3,163,176,189].forEach((y,k)=>{
  R(557.3,y-4.8,9.7,9.7,groupColors[k]);T(572,y,fHealthyText[k],{size:10,align:'left'});T(605.7,y,fLabels[k],{size:10,align:'left'});
  R(674,y-4.8,9.7,9.7,groupColors[k]);T(688.7,y,fCFText[k],{size:10,align:'left'});T(722,y,fLabels[k],{size:10,align:'left'});
});

// ---------- G ----------
{
  const l=586,r=759,gl=593.7,gr=756.7,top=264.3,bot=375;
  const yt=[0,20,40,60,80,100];
  const i=option.grid.length;
  option.grid.push({left:gl,top,width:gr-gl,height:bot-top});
  option.xAxis.push({type:'category',gridIndex:i,data:catNames,axisLine:{show:false},axisTick:{alignWithLabel:true,length:3,lineStyle:{color:AX}},
    axisLabel:{rotate:45,fontSize:10,fontFamily:F,color:INK,margin:8,interval:0}});
  option.yAxis.push({type:'value',gridIndex:i,min:0,max:100,interval:20,offset:gl-l,axisLine:{show:true,lineStyle:{color:AX}},axisTick:{show:true,length:3,lineStyle:{color:AX}},
    axisLabel:{fontSize:10.5,fontFamily:F,color:INK,margin:3},splitLine:{show:true,lineStyle:{color:'#8a8a8a',width:1}}});
  const mk=(name,vals,color,txt)=>option.series.push({type:'bar',xAxisIndex:i,yAxisIndex:i,stack:'g',name,barWidth:29.5,silent:true,z:3,
    data:vals,itemStyle:{color},
    label:{show:true,position:'inside',color:txt,fontFamily:F,fontSize:10,formatter:p=>p.value>=10?p.value+'%':''}});
  mk('No ABPA',gNoAbpa,CN,'#ececec');mk('ABPA History',gHistory,'#d9d9d9','#333');mk('Acute ABPA',gAcute,CL,'#333');
  L(l,bot,r,bot,AX,1);
  yt.slice(1).forEach(v=>{const y=bot-v*(bot-top)/100;L(l,y,gl,y,'#8a8a8a',1);L(gr,y,r,y,'#8a8a8a',1);});
  T(644.5,254.5,gAcute[1]+'%',{size:10});
  L(640.5,265,642.5,259,'#555',.7);
  T(555.7,319,'% of patients',{size:10,rot:Math.PI/2});
  [['Acute ABPA',CL,558,570.7],['ABPA History','#d9d9d9',632.3,644.7],['No ABPA','#555',711.7,724]].forEach(a=>{R(a[2],422,9,9.5,a[1]);T(a[3],426.8,a[0],{size:9.5,align:'left'});});
}

// ---------- H ----------
{
  const i=option.grid.length;
  option.grid.push({left:629,top:524.3,width:129,height:207});
  const rowFmt=v=>rt(v,10).text;
  option.xAxis.push({type:'category',gridIndex:i,data:catNames,axisLine:{show:false},axisTick:{length:3,alignWithLabel:true,lineStyle:{color:AX}},splitLine:{show:false},
    axisLabel:{rotate:45,fontSize:10,fontFamily:F,color:INK,margin:8,interval:0}});
  option.yAxis.push({type:'category',gridIndex:i,inverse:true,data:hRows,axisLine:{show:false},axisTick:{length:3,alignWithLabel:true,lineStyle:{color:AX}},splitLine:{show:false},
    axisLabel:{fontSize:10,fontFamily:F,color:INK,margin:7,interval:0,formatter:rowFmt,rich:richOf(10,INK)}});
  const data=[];hZ.forEach((row,y)=>row.forEach((v,x)=>data.push([x,y,v])));
  option.series.push({type:'heatmap',xAxisIndex:i,yAxisIndex:i,data,silent:true,itemStyle:{borderColor:'#eee',borderWidth:.5}});
  option.visualMap={type:'continuous',min:-1,max:1,dimension:2,seriesIndex:option.series.length-1,orient:'horizontal',left:603,top:797.7,itemWidth:9,itemHeight:155,padding:0,calculable:false,hoverLink:false,realtime:false,text:null,showLabel:false,
    inRange:{color:['#0b2750','#838d9b','#e6e6e6','#ebe08a','#ffe61a']}};
  const t=[-1,-.5,0,.5,1];
  addGrid(603.5,806.7,757.5,807,axis('bottom',-1,1,t,t,{line:false,color:'#333',size:10,margin:5,fmt:v=>v.toFixed(1),tick:2}),axis('left',0,1,[],[],{show:false,line:false}));
  T(680.7,788.7,'Group mean Z-score',{size:10});
}

const chart=echarts.init(document.getElementById('c'));
chart.setOption(option);
</script></body></html>
